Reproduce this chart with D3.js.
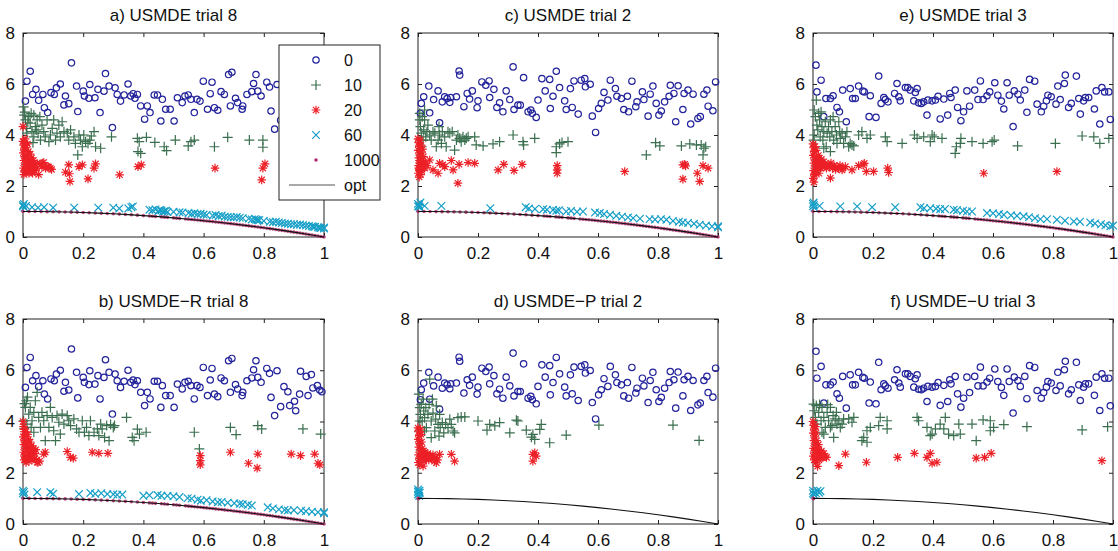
<!DOCTYPE html>
<html>
<head>
<meta charset="utf-8">
<script src="https://cdn.jsdelivr.net/npm/d3@7"></script>
<style>
  html, body { margin: 0; padding: 0; background: #fff; }
  svg { display: block; font-family: "Liberation Sans", Arial, Helvetica, sans-serif; }
</style>
</head>
<body>
<svg id="chart" width="1118" height="551"></svg>
<script>
// ---- tick values / labels ----
const xTicks = [0, 0.2, 0.4, 0.6, 0.8, 1];
const xTickLabels = ["0", "0.2", "0.4", "0.6", "0.8", "1"];
const yTicks = [0, 2, 4, 6, 8];
const yTickLabels = ["0", "2", "4", "6", "8"];
const legendLabels = ["0", "10", "20", "60", "1000", "opt"];

// ---- true Pareto front ----
const optFront = [[0,1],[0.05,0.998],[0.1,0.99],[0.15,0.978],[0.2,0.96],[0.25,0.938],[0.3,0.91],[0.35,0.878],
  [0.4,0.84],[0.45,0.798],[0.5,0.75],[0.55,0.698],[0.6,0.64],[0.65,0.578],[0.7,0.51],[0.75,0.438],
  [0.8,0.36],[0.85,0.278],[0.9,0.19],[0.95,0.098],[1,0]];

// ---- generation 1000 population (converged onto the front) ----
const gen1000Front = [[0,1],[0.02,1],[0.04,0.998],[0.06,0.996],[0.08,0.994],[0.1,0.99],[0.12,0.986],[0.14,0.98],
  [0.16,0.974],[0.18,0.968],[0.2,0.96],[0.22,0.952],[0.24,0.942],[0.26,0.932],[0.28,0.922],[0.3,0.91],
  [0.32,0.898],[0.34,0.884],[0.36,0.87],[0.38,0.856],[0.4,0.84],[0.42,0.824],[0.44,0.806],[0.46,0.788],
  [0.48,0.77],[0.5,0.75],[0.52,0.73],[0.54,0.708],[0.56,0.686],[0.58,0.664],[0.6,0.64],[0.62,0.616],
  [0.64,0.59],[0.66,0.564],[0.68,0.538],[0.7,0.51],[0.72,0.482],[0.74,0.452],[0.76,0.422],[0.78,0.392],
  [0.8,0.36],[0.82,0.328],[0.84,0.294],[0.86,0.26],[0.88,0.226],[0.9,0.19],[0.92,0.154],[0.94,0.116],
  [0.96,0.078],[0.98,0.04],[1,0],
  [0.43,0.815],[0.47,0.779],[0.51,0.74],[0.55,0.697],[0.57,0.675],[0.59,0.652],[0.61,0.628],[0.63,0.603],
  [0.65,0.577],[0.67,0.551],[0.69,0.524],[0.71,0.496],[0.73,0.467],[0.75,0.437],[0.77,0.407],[0.79,0.376],
  [0.81,0.344],[0.83,0.311],[0.85,0.277],[0.87,0.243],[0.89,0.208],[0.91,0.172],[0.93,0.135],[0.95,0.097],
  [0.97,0.059],[0.99,0.02]];
const gen1000P = [[0,1],[0.002,0.99]];
const gen1000U = [[0,1],[0.002,0.99]];

// ---- generation 0 (initial populations, one per trial) ----
const gen0Trial8 = [[0.008,5.33],[0.013,6.11],[0.024,6.5],[0.032,5.59],[0.043,5.79],[0.052,5.36],[0.066,5.59],
  [0.071,5.07],[0.082,4.88],[0.093,5.66],[0.104,5.59],[0.111,5.85],[0.124,6.0],[0.136,5.18],[0.141,5.53],
  [0.152,5.23],[0.161,6.83],[0.178,5.92],[0.182,4.92],[0.2,5.72],[0.204,5.53],[0.219,5.44],[0.222,5.98],
  [0.239,5.46],[0.249,5.79],[0.256,4.88],[0.269,5.72],[0.274,6.41],[0.286,5.92],[0.297,4.29],[0.306,5.85],
  [0.313,5.59],[0.324,5.33],[0.336,5.57],[0.349,6.0],[0.358,5.53],[0.366,5.62],[0.372,5.44],[0.38,5.59],
  [0.391,5.14],[0.404,4.62],[0.413,5.14],[0.422,4.88],[0.436,5.57],[0.447,5.57],[0.458,4.55],[0.463,5.4],
  [0.474,5.01],[0.489,5.01],[0.502,4.55],[0.513,5.46],[0.529,5.27],[0.538,5.53],[0.549,5.57],[0.558,5.4],
  [0.569,4.88],[0.578,5.4],[0.588,5.33],[0.599,6.11],[0.613,5.01],[0.622,5.62],[0.628,6.07],[0.636,5.07],
  [0.647,4.97],[0.658,5.7],[0.669,5.59],[0.683,6.37],[0.689,5.14],[0.694,6.46],[0.706,5.44],[0.713,5.27],
  [0.728,5.01],[0.73,5.14],[0.744,5.59],[0.76,5.7],[0.766,6.02],[0.774,6.37],[0.78,5.72],[0.791,5.53],
  [0.81,6.07],[0.819,5.88],[0.824,4.94],[0.836,4.23],[0.844,5.98],[0.856,4.58],[0.867,5.36],[0.88,5.16],
  [0.886,4.62],[0.902,4.79],[0.906,4.42],[0.919,5.07],[0.922,5.96],[0.941,5.76],[0.947,5.01],[0.958,5.83],
  [0.963,5.31],[0.978,5.4],[0.986,5.23],[0.993,5.16]];

const gen0Trial2 = [[0.008,4.85],[0.011,5.24],[0.019,5.5],[0.036,5.92],[0.039,4.87],[0.052,5.39],[0.067,5.73],
  [0.072,4.48],[0.081,5.3],[0.089,5.5],[0.097,5.43],[0.106,5.28],[0.109,5.47],[0.128,5.5],[0.137,6.51],
  [0.139,6.35],[0.153,5.11],[0.164,5.63],[0.172,5.41],[0.181,5.73],[0.197,5.07],[0.2,5.34],[0.213,6.08],
  [0.226,5.95],[0.237,6.12],[0.239,5.47],[0.253,5.79],[0.263,5.08],[0.272,5.26],[0.283,4.91],[0.294,5.73],
  [0.306,5.39],[0.317,6.67],[0.32,5.0],[0.333,5.17],[0.341,5.17],[0.352,6.25],[0.367,4.91],[0.376,4.98],
  [0.381,4.85],[0.394,4.69],[0.4,5.37],[0.413,6.21],[0.424,5.73],[0.439,6.18],[0.441,5.04],[0.45,5.52],
  [0.461,6.5],[0.472,5.86],[0.489,5.34],[0.494,5.0],[0.508,5.82],[0.514,5.08],[0.52,6.12],[0.534,4.82],
  [0.544,6.15],[0.556,6.21],[0.558,5.89],[0.574,5.99],[0.581,4.74],[0.592,4.1],[0.602,5.04],[0.611,5.24],
  [0.62,5.67],[0.633,5.37],[0.641,6.15],[0.658,5.82],[0.663,5.52],[0.678,5.43],[0.686,5.0],[0.698,5.52],
  [0.702,4.91],[0.713,6.11],[0.726,5.11],[0.73,5.3],[0.748,5.69],[0.753,5.39],[0.767,4.74],[0.774,5.6],
  [0.783,5.92],[0.794,5.24],[0.803,4.78],[0.811,4.94],[0.822,5.3],[0.837,5.52],[0.841,5.95],[0.853,5.63],
  [0.859,4.52],[0.867,5.93],[0.883,5.0],[0.887,5.63],[0.9,5.76],[0.909,4.43],[0.917,5.6],[0.933,4.65],
  [0.941,4.72],[0.953,5.6],[0.963,5.76],[0.967,5.13],[0.983,4.95],[0.992,6.08]];

const gen0Trial3 = [[0.01,6.74],[0.013,5.69],[0.027,6.15],[0.036,4.72],[0.043,5.43],[0.058,5.43],[0.067,5.54],
  [0.08,5.08],[0.088,4.91],[0.099,5.76],[0.111,4.52],[0.124,5.82],[0.132,5.43],[0.141,5.43],[0.152,5.92],
  [0.166,5.72],[0.171,5.69],[0.187,4.72],[0.191,5.54],[0.21,4.69],[0.219,6.31],[0.227,5.24],[0.236,5.47],
  [0.241,5.39],[0.25,5.3],[0.272,5.63],[0.28,6.02],[0.286,5.5],[0.291,5.34],[0.308,5.86],[0.316,5.86],
  [0.324,5.76],[0.336,5.34],[0.341,5.67],[0.347,5.82],[0.352,5.26],[0.361,5.24],[0.369,5.3],[0.38,4.78],
  [0.383,5.37],[0.397,5.34],[0.408,5.37],[0.417,5.52],[0.424,4.63],[0.436,5.41],[0.449,4.78],[0.456,5.63],
  [0.46,5.47],[0.474,5.76],[0.482,5.08],[0.493,4.56],[0.502,4.91],[0.513,5.73],[0.522,5.13],[0.539,5.76],
  [0.55,5.39],[0.558,6.12],[0.567,5.39],[0.58,5.54],[0.589,5.69],[0.606,6.05],[0.616,5.56],[0.628,5.33],
  [0.636,5.02],[0.647,6.05],[0.654,5.56],[0.667,4.33],[0.671,5.73],[0.683,5.6],[0.691,5.37],[0.706,5.76],
  [0.713,4.89],[0.722,6.18],[0.739,6.11],[0.747,5.21],[0.761,4.91],[0.769,5.13],[0.778,5.34],[0.783,5.56],
  [0.794,5.5],[0.81,5.21],[0.816,5.92],[0.824,5.39],[0.838,6.02],[0.841,6.35],[0.852,5.08],[0.861,5.24],
  [0.878,6.31],[0.886,5.43],[0.891,4.82],[0.902,5.34],[0.908,5.47],[0.919,5.47],[0.938,5.02],[0.944,5.73],
  [0.956,4.43],[0.963,5.86],[0.972,5.69],[0.986,5.69],[0.991,4.61]];

// ---- generation 10 ----
const gen10A = [[0.002,5.1],[0.004,4.78],[0.008,4.59],[0.011,4.26],[0.013,4.07],[0.019,4.72],[0.024,4.46],
  [0.03,4.13],[0.036,4.78],[0.036,3.93],[0.041,4.33],[0.047,4.59],[0.05,4.07],[0.056,4.72],[0.058,3.8],
  [0.063,4.39],[0.069,4.13],[0.074,3.93],[0.08,4.59],[0.086,3.74],[0.091,4.0],[0.097,4.26],[0.102,4.59],
  [0.108,3.8],[0.113,4.07],[0.119,4.39],[0.124,3.93],[0.13,4.52],[0.136,4.13],[0.147,4.07],[0.152,3.8],
  [0.158,4.2],[0.169,3.93],[0.174,3.67],[0.182,3.22],[0.186,4.0],[0.191,3.8],[0.197,3.54],[0.202,4.0],
  [0.208,3.74],[0.216,3.67],[0.222,3.8],[0.227,3.96],[0.236,4.13],[0.241,3.54],[0.258,3.48],[0.006,4.9],
  [0.016,4.5],[0.027,4.85],[0.033,3.7],[0.044,4.2],[0.294,3.93],[0.38,3.87],[0.386,3.74],[0.382,3.35],
  [0.391,3.28],[0.41,3.91],[0.438,3.71],[0.469,3.54],[0.477,3.39],[0.506,3.8],[0.549,3.57],[0.558,3.74],
  [0.569,3.8],[0.636,3.54],[0.68,3.91],[0.752,3.8],[0.797,3.8],[0.797,3.52]];

const gen10B = [[0.008,4.55],[0.011,4.81],[0.019,4.29],[0.024,4.55],[0.03,4.03],[0.036,4.36],[0.041,4.81],
  [0.047,5.14],[0.052,4.16],[0.058,3.77],[0.063,4.36],[0.069,4.03],[0.074,3.25],[0.08,4.23],[0.086,3.77],
  [0.091,4.55],[0.097,4.16],[0.102,3.64],[0.108,3.25],[0.113,4.23],[0.119,3.97],[0.124,3.51],[0.13,4.29],
  [0.136,3.9],[0.147,4.23],[0.152,4.03],[0.158,3.84],[0.169,4.1],[0.178,3.71],[0.186,3.58],[0.197,4.03],
  [0.204,3.58],[0.211,3.77],[0.219,3.45],[0.224,4.03],[0.236,3.58],[0.247,3.71],[0.252,3.45],[0.258,3.9],
  [0.263,3.71],[0.271,3.38],[0.278,3.84],[0.286,3.25],[0.291,3.88],[0.3,3.77],[0.304,3.84],[0.002,4.03],
  [0.004,3.71],[0.013,3.9],[0.027,3.77],[0.036,3.58],[0.005,4.7],[0.015,4.95],[0.344,4.16],[0.363,3.38],
  [0.369,3.25],[0.38,3.7],[0.387,3.51],[0.409,3.58],[0.569,3.58],[0.586,2.93],[0.689,3.77],[0.708,3.49],
  [0.78,3.84],[0.793,3.71],[0.93,3.71],[0.989,3.51]];

const gen10C = [[0.006,4.59],[0.008,4.33],[0.011,4.07],[0.014,4.72],[0.017,3.8],[0.019,4.2],[0.022,4.98],
  [0.026,3.93],[0.03,4.13],[0.033,4.39],[0.039,4.0],[0.044,3.8],[0.05,4.13],[0.056,4.07],[0.061,3.54],
  [0.067,3.8],[0.07,4.33],[0.072,4.0],[0.078,3.67],[0.081,4.13],[0.089,3.93],[0.094,3.54],[0.1,4.13],
  [0.106,4.07],[0.114,4.13],[0.122,3.41],[0.128,3.8],[0.133,4.0],[0.139,3.87],[0.144,3.74],[0.15,3.93],
  [0.156,3.8],[0.161,3.87],[0.167,3.93],[0.008,3.8],[0.012,3.54],[0.006,4.85],[0.022,4.59],[0.189,3.93],
  [0.194,3.61],[0.217,3.57],[0.25,3.65],[0.272,3.74],[0.317,4.0],[0.35,3.74],[0.352,3.61],[0.389,3.87],
  [0.461,3.54],[0.461,3.31],[0.472,3.65],[0.48,3.71],[0.5,3.74],[0.761,3.22],[0.792,3.7],[0.806,3.57],
  [0.878,3.57],[0.906,3.65],[0.928,3.61],[0.944,3.61],[0.95,3.22],[0.953,3.48],[0.959,3.54]];

const gen10D = [[0.003,5.07],[0.006,4.54],[0.008,4.28],[0.011,4.67],[0.014,4.02],[0.017,4.87],[0.019,4.41],
  [0.022,4.15],[0.026,4.54],[0.028,3.76],[0.033,4.28],[0.037,4.67],[0.039,5.65],[0.044,4.02],[0.048,4.87],
  [0.05,4.33],[0.056,3.63],[0.059,4.09],[0.061,4.61],[0.067,3.89],[0.07,3.43],[0.072,4.28],[0.074,3.76],
  [0.081,3.96],[0.086,3.56],[0.092,3.89],[0.1,3.76],[0.106,4.09],[0.111,3.89],[0.117,3.63],[0.122,3.56],
  [0.006,4.02],[0.003,3.63],[0.044,3.37],[0.022,3.63],[0.133,4.15],[0.144,4.18],[0.156,4.18],[0.2,4.02],
  [0.23,3.66],[0.239,3.89],[0.256,3.83],[0.272,3.96],[0.306,3.56],[0.328,4.05],[0.333,4.02],[0.361,3.66],
  [0.378,3.39],[0.383,3.5],[0.389,3.3],[0.406,3.69],[0.411,3.89],[0.439,3.17],[0.494,3.47],[0.603,3.86],
  [0.85,3.86],[0.937,3.26]];

const gen10E = [[0.004,4.98],[0.008,4.72],[0.011,5.37],[0.013,4.39],[0.016,4.2],[0.019,4.85],[0.022,4.59],
  [0.024,3.93],[0.027,4.91],[0.03,4.33],[0.033,3.8],[0.036,4.13],[0.041,4.52],[0.044,3.54],[0.047,4.07],
  [0.052,4.33],[0.056,3.93],[0.058,4.59],[0.063,4.13],[0.067,4.72],[0.069,3.8],[0.074,4.33],[0.078,4.0],
  [0.08,3.67],[0.086,4.52],[0.089,4.13],[0.091,3.87],[0.097,4.07],[0.102,3.67],[0.108,3.93],[0.113,4.13],
  [0.119,3.54],[0.124,3.67],[0.13,3.61],[0.004,4.0],[0.002,3.8],[0.009,3.54],[0.036,3.48],[0.058,3.35],
  [0.136,3.57],[0.152,4.0],[0.163,4.13],[0.18,3.87],[0.191,4.0],[0.241,3.93],[0.247,3.74],[0.297,3.67],
  [0.338,4.0],[0.347,3.87],[0.369,3.93],[0.391,3.74],[0.397,4.0],[0.404,3.93],[0.43,3.87],[0.474,3.28],
  [0.478,3.54],[0.491,3.67],[0.493,3.87],[0.53,3.74],[0.567,3.67],[0.597,3.74],[0.604,3.8],[0.682,3.57],
  [0.808,3.67],[0.897,3.96],[0.936,3.93],[0.956,3.67],[0.986,3.87]];

const gen10F = [[0.002,4.68],[0.004,4.42],[0.008,4.16],[0.011,4.62],[0.013,3.9],[0.019,4.36],[0.022,4.66],
  [0.027,4.03],[0.03,4.55],[0.036,4.16],[0.041,3.77],[0.047,4.36],[0.049,4.66],[0.052,4.03],[0.058,4.55],
  [0.063,3.84],[0.067,4.23],[0.069,3.38],[0.074,4.1],[0.078,4.36],[0.08,3.9],[0.086,4.03],[0.091,3.77],
  [0.097,3.9],[0.102,4.1],[0.036,3.51],[0.03,3.58],[0.058,3.77],[0.119,4.1],[0.13,3.97],[0.136,4.16],
  [0.163,3.25],[0.169,3.38],[0.18,3.19],[0.18,3.64],[0.191,3.77],[0.219,3.84],[0.224,4.16],[0.247,4.03],
  [0.247,3.71],[0.347,4.16],[0.352,4.03],[0.38,3.77],[0.391,3.45],[0.397,3.51],[0.408,3.71],[0.424,3.9],
  [0.436,3.71],[0.441,4.16],[0.452,3.51],[0.469,3.45],[0.486,3.9],[0.491,3.51],[0.53,3.9],[0.544,3.25],
  [0.567,4.06],[0.591,4.03],[0.591,3.64],[0.602,3.77],[0.636,3.88],[0.713,3.8],[0.897,3.67],[0.982,3.8]];

// ---- generation 20 ----
const gen20A = [[0,4.33],[0,3.75],[0.002,3.6],[0.004,3.45],[0.001,3.3],[0.006,3.15],[0.003,3.0],[0.008,2.85],
  [0.002,2.7],[0.005,2.55],[0.01,3.5],[0.012,3.2],[0.014,2.95],[0.016,2.75],[0.012,2.6],[0.018,3.35],
  [0.02,3.05],[0.022,2.85],[0.025,2.65],[0.02,2.5],[0.028,3.1],[0.03,2.9],[0.033,2.75],[0.035,3.0],
  [0.038,2.6],[0.04,2.85],[0.015,3.65],[0.007,3.85],[0.024,3.25],[0.032,2.5],[0.045,2.7],[0.052,2.45],
  [0.06,2.85],[0.065,2.9],[0.075,2.7],[0.085,2.75],[0.095,2.65],[0.003,2.45],[0.009,3.6],[0.017,2.55],
  [0.027,2.95],[0.047,2.89],[0.063,2.76],[0.069,2.92],[0.08,2.76],[0.091,2.7],[0.141,2.54],[0.152,2.83],
  [0.154,2.48],[0.156,2.18],[0.186,2.76],[0.197,2.83],[0.216,2.28],[0.236,2.7],[0.241,2.87],[0.321,2.44],
  [0.382,2.76],[0.393,2.83],[0.638,2.7],[0.793,2.24],[0.797,2.7],[0.804,2.87]];

const gen20B = [[0,4.0],[0.002,3.8],[0.004,3.6],[0.001,3.4],[0.006,3.25],[0.003,3.1],[0.008,2.95],[0.002,2.8],
  [0.005,2.65],[0.01,3.5],[0.012,3.15],[0.014,2.9],[0.016,2.7],[0.012,2.55],[0.018,3.3],[0.02,3.0],
  [0.022,2.8],[0.025,2.6],[0.02,2.45],[0.028,3.05],[0.03,2.85],[0.033,2.7],[0.035,2.95],[0.038,2.55],
  [0.04,2.75],[0.045,2.5],[0.05,2.4],[0.055,2.45],[0.006,3.7],[0.015,3.5],[0.024,3.2],[0.03,2.5],
  [0.042,2.9],[0.004,2.5],[0.01,2.4],[0.047,2.41],[0.069,2.73],[0.074,2.8],[0.147,2.83],[0.158,2.6],
  [0.167,2.57],[0.23,2.8],[0.252,2.76],[0.282,2.76],[0.589,2.67],[0.589,2.47],[0.589,2.31],[0.689,2.8],
  [0.749,2.37],[0.78,2.73],[0.778,2.18],[0.891,2.73],[0.922,2.67],[0.969,2.73],[0.98,2.37],[0.986,2.31]];

const gen20C = [[0,3.85],[0.002,3.7],[0.004,3.55],[0.001,3.4],[0.006,3.25],[0.003,3.1],[0.008,2.95],[0.002,2.8],
  [0.005,2.65],[0.001,2.5],[0.004,2.35],[0.01,3.6],[0.012,3.3],[0.014,3.0],[0.016,2.8],[0.012,2.6],
  [0.018,3.15],[0.02,2.9],[0.022,2.7],[0.007,3.8],[0.009,2.45],[0.015,3.45],[0.025,2.9],[0.03,2.8],
  [0.005,3.0],[0.003,2.7],[0.039,3.02],[0.05,2.63],[0.067,2.5],[0.072,2.89],[0.083,2.83],[0.089,2.76],
  [0.111,3.0],[0.117,2.63],[0.137,2.85],[0.133,2.11],[0.167,2.92],[0.189,2.89],[0.267,2.63],[0.286,2.85],
  [0.32,2.61],[0.347,2.85],[0.464,2.8],[0.464,2.63],[0.464,2.5],[0.689,2.57],[0.883,2.83],[0.889,2.85],
  [0.892,2.79],[0.883,2.27],[0.931,2.5],[0.939,2.18],[0.95,2.8],[0.967,2.7]];

const gen20D = [[0,3.75],[0.002,3.6],[0.004,3.45],[0.001,3.3],[0.006,3.15],[0.003,3.0],[0.008,2.85],[0.002,2.7],
  [0.005,2.55],[0.001,2.4],[0.01,3.5],[0.012,3.2],[0.014,2.95],[0.016,2.75],[0.012,2.6],[0.018,2.85],
  [0.02,2.65],[0.022,2.8],[0.025,2.55],[0.028,2.7],[0.03,2.6],[0.033,2.75],[0.036,2.5],[0.04,2.65],
  [0.045,2.55],[0.05,2.7],[0.055,2.45],[0.06,2.6],[0.065,2.5],[0.008,3.7],[0.006,2.3],[0.02,2.45],
  [0.017,2.26],[0.039,2.65],[0.061,2.39],[0.072,2.72],[0.111,2.72],[0.122,2.45],[0.383,2.72],[0.389,2.78],
  [0.394,2.65],[0.383,2.45]];

const gen20E = [[0,3.65],[0.002,3.5],[0.004,3.35],[0.001,3.2],[0.006,3.05],[0.003,2.9],[0.008,2.75],[0.002,2.6],
  [0.005,2.45],[0.001,2.3],[0.003,2.15],[0.01,3.4],[0.012,3.15],[0.014,2.95],[0.016,2.8],[0.012,2.6],
  [0.018,3.2],[0.02,3.0],[0.022,2.85],[0.025,2.7],[0.028,3.05],[0.03,2.9],[0.033,2.75],[0.036,2.95],
  [0.04,2.8],[0.045,2.7],[0.05,2.85],[0.055,2.75],[0.06,2.9],[0.065,2.7],[0.07,2.8],[0.075,2.65],
  [0.08,2.75],[0.085,2.7],[0.09,2.8],[0.1,2.7],[0.007,3.55],[0.009,2.5],[0.02,2.5],[0.058,2.31],
  [0.097,2.63],[0.108,2.76],[0.13,2.63],[0.152,2.8],[0.167,2.83],[0.171,2.89],[0.178,2.57],[0.202,2.57],
  [0.249,2.7],[0.252,2.53],[0.569,2.5],[0.813,2.57]];

const gen20F = [[0,4.0],[0.002,3.85],[0.004,3.7],[0.001,3.55],[0.006,3.4],[0.003,3.25],[0.008,3.1],[0.002,2.95],
  [0.005,2.8],[0.001,2.65],[0.004,2.5],[0.01,3.55],[0.012,3.25],[0.014,3.0],[0.016,2.8],[0.012,2.6],
  [0.018,3.1],[0.02,2.9],[0.022,2.75],[0.025,2.6],[0.028,2.85],[0.03,2.7],[0.033,2.6],[0.036,2.75],
  [0.04,2.65],[0.008,3.8],[0.009,2.4],[0.015,2.25],[0.02,2.5],[0.045,2.6],[0.03,2.6],[0.086,2.28],
  [0.108,2.73],[0.178,2.41],[0.282,2.6],[0.338,2.76],[0.38,2.6],[0.391,2.76],[0.397,2.37],[0.413,2.41],
  [0.544,2.57],[0.572,2.6],[0.594,2.76],[0.963,2.47]];

// ---- generation 60 ----
const gen60A = [[0,1.2],[0,1.25],[0.005,1.15],[0.003,1.3],[0.01,1.22],[0.03,1.17],[0.05,1.15],[0.07,1.17],
  [0.1,1.15],[0.17,1.15],[0.25,1.15],[0.3,1.15],[0.32,1.12],[0.35,1.12],[0.36,1.17],[0.365,1.2],
  [0.42,1.07],[0.43,1.05],[0.44,1.08],[0.45,1.02],[0.46,1.04],[0.465,0.99],[0.47,1.01],[0.48,0.98],
  [0.5,0.99],[0.52,0.97],[0.53,0.96],[0.55,0.94],[0.56,0.91],[0.57,0.93],[0.58,0.9],[0.6,0.88],
  [0.61,0.86],[0.63,0.84],[0.64,0.86],[0.65,0.82],[0.67,0.8],[0.69,0.78],[0.7,0.77],[0.72,0.76],
  [0.73,0.74],[0.75,0.72],[0.76,0.69],[0.77,0.7],[0.78,0.67],[0.8,0.63],[0.82,0.6],[0.83,0.58],
  [0.85,0.57],[0.86,0.55],[0.88,0.52],[0.9,0.5],[0.91,0.48],[0.92,0.49],[0.94,0.45],[0.95,0.43],
  [0.96,0.42],[0.97,0.4],[0.98,0.38],[0.99,0.35],[1,0.33],[1,0.37],
  [0.455,1.06],[0.475,1.03],[0.59,0.91],[0.66,0.84],[0.68,0.79],[0.71,0.79],[0.775,0.68],[0.785,0.66],
  [0.84,0.6],[0.87,0.53],[0.89,0.5],[0.93,0.47],[0.965,0.4],[0.985,0.36]];

const gen60B = [[0,1.2],[0,1.3],[0.003,1.25],[0.005,1.15],[0.047,1.24],[0.091,1.24],[0.1,1.18],[0.186,1.17],
  [0.224,1.21],[0.24,1.18],[0.26,1.2],[0.28,1.17],[0.3,1.16],[0.313,1.14],[0.33,1.15],[0.4,1.1],
  [0.42,1.12],[0.447,1.13],[0.46,1.1],[0.48,1.1],[0.5,1.08],[0.52,1.05],[0.547,1.01],[0.56,0.99],
  [0.58,0.95],[0.591,0.91],[0.61,0.93],[0.63,0.88],[0.647,0.85],[0.66,0.86],[0.68,0.83],[0.702,0.81],
  [0.72,0.79],[0.73,0.77],[0.747,0.75],[0.76,0.72],[0.813,0.65],[0.83,0.61],[0.85,0.57],[0.869,0.55],
  [0.88,0.53],[0.9,0.54],[0.924,0.52],[0.94,0.5],[0.96,0.48],[0.98,0.46],[1,0.46],[1,0.42]];

const gen60C = [[0,1.2],[0,1.3],[0.003,1.25],[0.006,1.15],[0.008,1.35],[0.004,1.2],[0.022,1.22],[0.078,1.22],
  [0.241,1.13],[0.359,1.17],[0.37,1.12],[0.39,1.1],[0.417,1.09],[0.43,1.07],[0.45,1.06],[0.461,1.03],
  [0.47,1.05],[0.494,1.0],[0.51,1.02],[0.53,0.99],[0.55,1.0],[0.59,0.96],[0.606,0.94],[0.62,0.9],
  [0.64,0.87],[0.661,0.83],[0.68,0.8],[0.7,0.77],[0.717,0.74],[0.74,0.72],[0.772,0.7],[0.79,0.69],
  [0.81,0.7],[0.828,0.68],[0.85,0.63],[0.87,0.6],[0.883,0.57],[0.9,0.55],[0.92,0.52],[0.939,0.48],
  [0.96,0.45],[0.98,0.42],[1,0.38],[1,0.42]];

const gen60D = [[0,1.15],[0,1.25],[0,1.35],[0.003,1.2],[0.005,1.3],[0.004,1.1],[0.006,1.22],[0.002,1.28]];

const gen60E = [[0,1.2],[0,1.3],[0.003,1.25],[0.005,1.15],[0.002,1.35],[0.022,1.22],[0.091,1.2],[0.147,1.2],
  [0.197,1.17],[0.274,1.17],[0.358,1.17],[0.37,1.13],[0.391,1.13],[0.41,1.11],[0.424,1.09],[0.44,1.1],
  [0.469,1.07],[0.48,1.05],[0.5,1.03],[0.513,1.0],[0.53,1.0],[0.58,0.94],[0.6,0.93],[0.62,0.9],
  [0.636,0.87],[0.66,0.85],[0.68,0.83],[0.702,0.81],[0.72,0.78],[0.74,0.74],[0.758,0.7],[0.78,0.7],
  [0.813,0.68],[0.84,0.64],[0.869,0.61],[0.89,0.6],[0.924,0.57],[0.94,0.53],[0.96,0.5],[0.975,0.46],
  [0.991,0.42],[1,0.45]];

const gen60F = [[0,1.2],[0,1.3],[0.005,1.25],[0.01,1.2],[0.015,1.3],[0.02,1.22],[0.025,1.28],[0.003,1.15]];

// ---- panel definitions ----
const panels = [
  { title: "a) USMDE trial 8",   left: 23,  top: 33,  right: 324,  bottom: 237,
    g0: gen0Trial8, g10: gen10A, g20: gen20A, g60: gen60A, g1000: gen1000Front, legend: true },
  { title: "c) USMDE trial 2",   left: 418, top: 33,  right: 718,  bottom: 237,
    g0: gen0Trial2, g10: gen10C, g20: gen20C, g60: gen60C, g1000: gen1000Front },
  { title: "e) USMDE trial 3",   left: 813, top: 33,  right: 1113, bottom: 237,
    g0: gen0Trial3, g10: gen10E, g20: gen20E, g60: gen60E, g1000: gen1000Front },
  { title: "b) USMDE\u2212R trial 8", left: 23,  top: 319, right: 324,  bottom: 524,
    g0: gen0Trial8, g10: gen10B, g20: gen20B, g60: gen60B, g1000: gen1000Front },
  { title: "d) USMDE\u2212P trial 2", left: 418, top: 319, right: 718,  bottom: 524,
    g0: gen0Trial2, g10: gen10D, g20: gen20D, g60: gen60D, g1000: gen1000P },
  { title: "f) USMDE\u2212U trial 3", left: 813, top: 319, right: 1113, bottom: 524,
    g0: gen0Trial3, g10: gen10F, g20: gen20F, g60: gen60F, g1000: gen1000U }
];

// ---- styling ----
const colors = { g0: "#23239b", g10: "#3b6f4f", g20: "#ec2027", g60: "#169fc8", g1000: "#b2306f", opt: "#111" };
const fontSize = 17;

// marker path generators (centered at 0,0)
const markerPath = {
  g0: () => d3.symbol(d3.symbolCircle, Math.PI * 3.2 * 3.2)(),
  g10: () => "M-5,0H5M0,-5V5",
  g20: () => "M-4.3,0H4.3M0,-4.3V4.3M-3.1,-3.1L3.1,3.1M-3.1,3.1L3.1,-3.1",
  g60: () => "M-3.8,-3.8L3.8,3.8M-3.8,3.8L3.8,-3.8",
};

const svg = d3.select("#chart");

function drawMarkers(g, data, key, x, y) {
  if (key === "g1000") {
    g.append("g").selectAll("circle").data(data).join("circle")
      .attr("cx", d => x(d[0])).attr("cy", d => y(d[1])).attr("r", 1.8)
      .attr("fill", colors.g1000).attr("opacity", 0.85);
    return;
  }
  const p = markerPath[key]();
  g.append("g").selectAll("path").data(data).join("path")
    .attr("transform", d => `translate(${x(d[0])},${y(d[1])})`)
    .attr("d", p)
    .attr("fill", "none")
    .attr("stroke", colors[key])
    .attr("stroke-width", 1.2);
}

panels.forEach(p => {
  const x = d3.scaleLinear().domain([0, 1]).range([p.left, p.right]);
  const y = d3.scaleLinear().domain([0, 8]).range([p.bottom, p.top]);
  const g = svg.append("g");

  // title
  g.append("text")
    .attr("x", (p.left + p.right) / 2).attr("y", p.top - 12)
    .attr("text-anchor", "middle").attr("font-size", fontSize).attr("fill", "#111")
    .text(p.title);

  // frame
  g.append("rect")
    .attr("x", p.left).attr("y", p.top)
    .attr("width", p.right - p.left).attr("height", p.bottom - p.top)
    .attr("fill", "none").attr("stroke", "#222").attr("stroke-width", 1);

  // axes with inward ticks (bottom/left labelled, top/right mirrored)
  const fmtX = (d, i) => xTickLabels[i];
  const fmtY = (d, i) => yTickLabels[i];
  const ax = g.append("g").attr("transform", `translate(0,${p.bottom})`)
    .call(d3.axisBottom(x).tickValues(xTicks).tickFormat(fmtX).tickSizeInner(-4).tickSizeOuter(0).tickPadding(10));
  const ay = g.append("g").attr("transform", `translate(${p.left},0)`)
    .call(d3.axisLeft(y).tickValues(yTicks).tickFormat(fmtY).tickSizeInner(-4).tickSizeOuter(0).tickPadding(8));
  g.append("g").attr("transform", `translate(0,${p.top})`)
    .call(d3.axisTop(x).tickValues(xTicks).tickFormat("").tickSizeInner(-4).tickSizeOuter(0));
  g.append("g").attr("transform", `translate(${p.right},0)`)
    .call(d3.axisRight(y).tickValues(yTicks).tickFormat("").tickSizeInner(-4).tickSizeOuter(0));
  g.selectAll(".domain").remove();
  g.selectAll(".tick line").attr("stroke", "#222");
  ax.selectAll("text").attr("font-size", fontSize).attr("fill", "#111");
  ay.selectAll("text").attr("font-size", fontSize).attr("fill", "#111");
  g.selectAll("g[font-family]").attr("font-family", null).attr("font-size", null);

  // data series
  drawMarkers(g, p.g0, "g0", x, y);
  drawMarkers(g, p.g10, "g10", x, y);
  drawMarkers(g, p.g20, "g20", x, y);
  drawMarkers(g, p.g60, "g60", x, y);
  drawMarkers(g, p.g1000, "g1000", x, y);

  // true front
  g.append("path").datum(optFront)
    .attr("d", d3.line().x(d => x(d[0])).y(d => y(d[1])))
    .attr("fill", "none").attr("stroke", colors.opt).attr("stroke-width", 1.1);

  // legend
  if (p.legend) {
    const lg = svg.append("g");
    const lx = 279, ly = 45, lw = 101, lh = 155;
    lg.append("rect").attr("x", lx).attr("y", ly).attr("width", lw).attr("height", lh)
      .attr("fill", "#fff").attr("stroke", "#222").attr("stroke-width", 1);
    const keys = ["g0", "g10", "g20", "g60", "g1000", "opt"];
    keys.forEach((k, i) => {
      const cy = ly + 15 + i * 25;
      if (k === "opt") {
        lg.append("line").attr("x1", lx + 10).attr("x2", lx + 56).attr("y1", cy).attr("y2", cy)
          .attr("stroke", "#555").attr("stroke-width", 1.2);
      } else if (k === "g1000") {
        lg.append("circle").attr("cx", lx + 37).attr("cy", cy).attr("r", 1.8).attr("fill", colors.g1000);
      } else {
        lg.append("path").attr("transform", `translate(${lx + 37},${cy})`).attr("d", markerPath[k]())
          .attr("fill", "none").attr("stroke", colors[k]).attr("stroke-width", 1.2);
      }
      lg.append("text").attr("x", lx + 65).attr("y", cy + 6)
        .attr("font-size", 16).attr("fill", "#111").text(legendLabels[i]);
    });
  }
});
</script>
</body>
</html>
